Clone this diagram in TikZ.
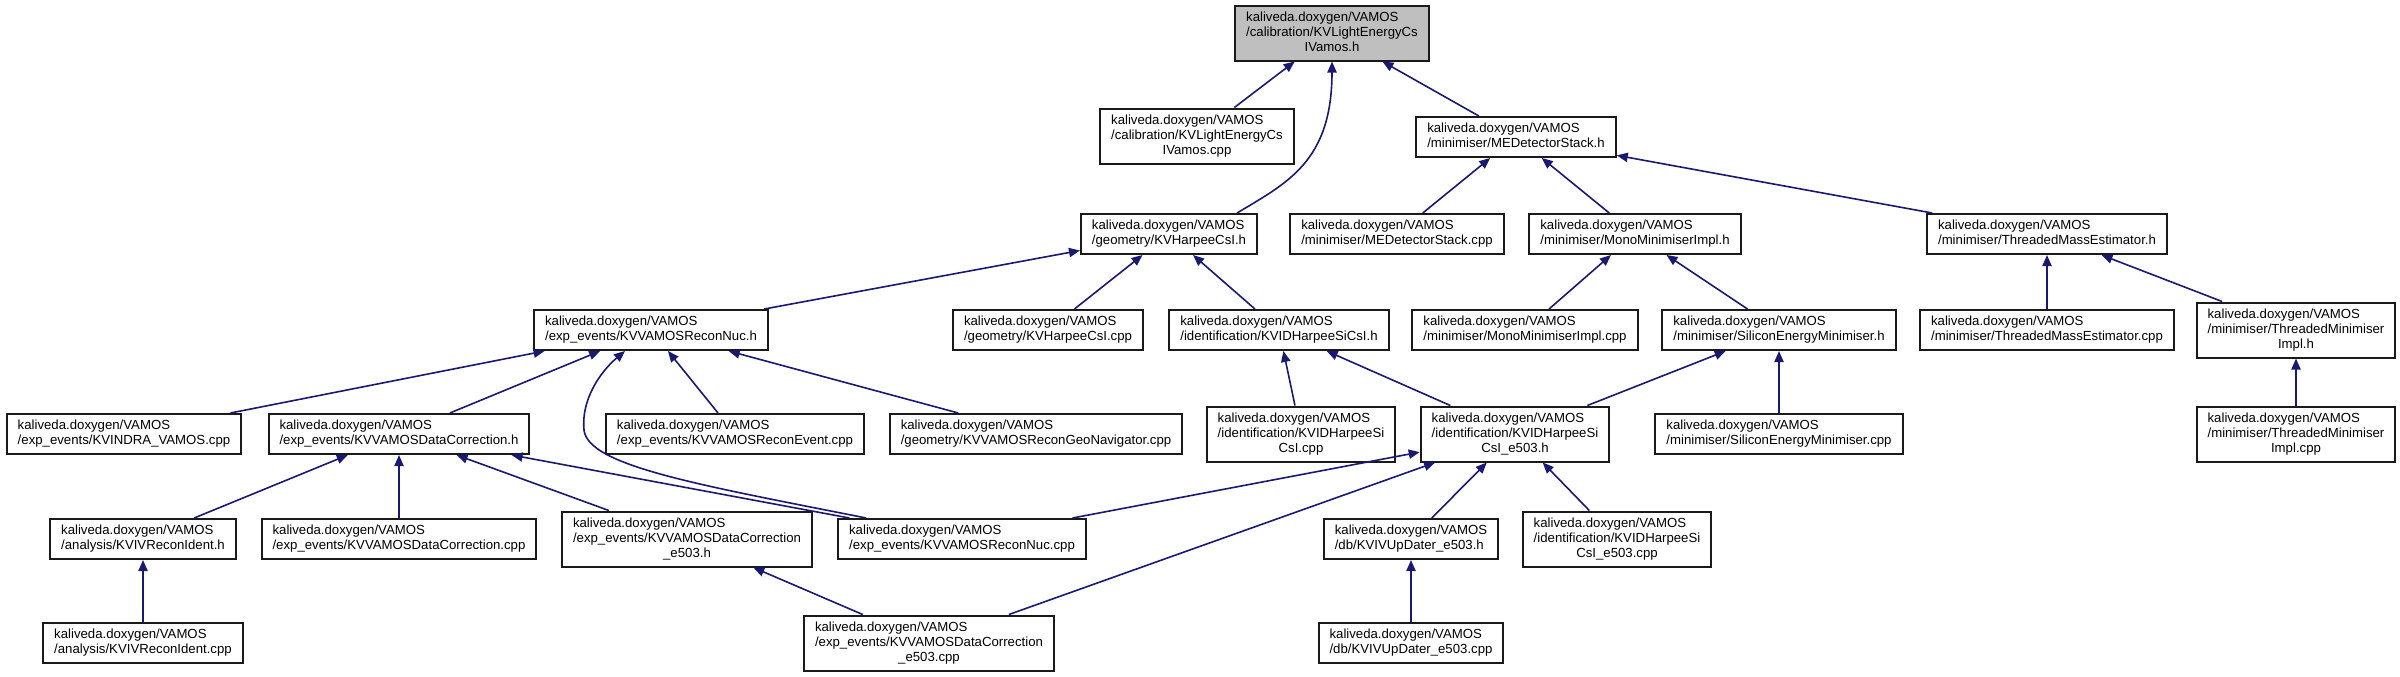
\documentclass[tikz,border=0pt]{standalone}
\usepackage{fontspec}
\setmainfont{Liberation Sans}
\usetikzlibrary{arrows.meta}
\definecolor{dxedge}{HTML}{191970}
\definecolor{dxgray}{HTML}{BFBFBF}
\definecolor{dxframe}{HTML}{1A1A1A}
\newcommand{\kvtwo}[1]{\begin{tabular}{@{}l@{}}kaliveda.doxygen/VAMOS\\#1\end{tabular}}
\newcommand{\kvthree}[2]{\begin{tabular}{@{}l@{}}kaliveda.doxygen/VAMOS\\#1\\\multicolumn{1}{@{}c@{}}{#2}\end{tabular}}
\tikzset{
  filebox/.style={
    draw=dxframe,
    fill=white,
    line width=1pt,
    inner xsep=5.5pt,
    inner ysep=2.5pt,
    font=\fontsize{6.6}{7.5}\selectfont
  },
  mainbox/.style={filebox, fill=dxgray},
  incl/.style={-{Triangle[length=5.5pt,width=4.6pt]}, draw=dxedge, line width=0.8pt}
}
\begin{document}
\begin{tikzpicture}[x=0.5pt, y=-0.5pt]
  \useasboundingbox (0,0) rectangle (2400,676);
  % rank 0 and 1
  \node[mainbox] (top) at (1332,33) {\kvthree{/calibration/KVLightEnergyCs}{IVamos.h}};
  \node[filebox] (lecpp) at (1197,136) {\kvthree{/calibration/KVLightEnergyCs}{IVamos.cpp}};
  \node[filebox] (mes) at (1516,137) {\kvtwo{/minimiser/MEDetectorStack.h}};
  % rank 2
  \node[filebox] (hcsi) at (1169,234) {\kvtwo{/geometry/KVHarpeeCsI.h}};
  \node[filebox] (mescpp) at (1397,234) {\kvtwo{/minimiser/MEDetectorStack.cpp}};
  \node[filebox] (mono) at (1635,234) {\kvtwo{/minimiser/MonoMinimiserImpl.h}};
  \node[filebox] (tme) at (2047,234) {\kvtwo{/minimiser/ThreadedMassEstimator.h}};
  % rank 3
  \node[filebox] (recon) at (651,330) {\kvtwo{/exp\_events/KVVAMOSReconNuc.h}};
  \node[filebox] (hcsicpp) at (1048,330) {\kvtwo{/geometry/KVHarpeeCsI.cpp}};
  \node[filebox] (idh) at (1279,330) {\kvtwo{/identification/KVIDHarpeeSiCsI.h}};
  \node[filebox] (monocpp) at (1525,330) {\kvtwo{/minimiser/MonoMinimiserImpl.cpp}};
  \node[filebox] (sem) at (1779,330) {\kvtwo{/minimiser/SiliconEnergyMinimiser.h}};
  \node[filebox] (tmecpp) at (2047,330) {\kvtwo{/minimiser/ThreadedMassEstimator.cpp}};
  \node[filebox] (tmi) at (2296,330) {\kvthree{/minimiser/ThreadedMinimiser}{Impl.h}};
  % rank 4
  \node[filebox] (indra) at (124,434) {\kvtwo{/exp\_events/KVINDRA\_VAMOS.cpp}};
  \node[filebox] (dc) at (399,434) {\kvtwo{/exp\_events/KVVAMOSDataCorrection.h}};
  \node[filebox] (revt) at (735,434) {\kvtwo{/exp\_events/KVVAMOSReconEvent.cpp}};
  \node[filebox] (geo) at (1036,434) {\kvtwo{/geometry/KVVAMOSReconGeoNavigator.cpp}};
  \node[filebox] (idhcpp) at (1301,434) {\kvthree{/identification/KVIDHarpeeSi}{CsI.cpp}};
  \node[filebox] (ide) at (1515,434) {\kvthree{/identification/KVIDHarpeeSi}{CsI\_e503.h}};
  \node[filebox] (semcpp) at (1779,434) {\kvtwo{/minimiser/SiliconEnergyMinimiser.cpp}};
  \node[filebox] (tmicpp) at (2296,434) {\kvthree{/minimiser/ThreadedMinimiser}{Impl.cpp}};
  % rank 5
  \node[filebox] (ivh) at (143,539) {\kvtwo{/analysis/KVIVReconIdent.h}};
  \node[filebox] (dccpp) at (399,539) {\kvtwo{/exp\_events/KVVAMOSDataCorrection.cpp}};
  \node[filebox] (dce) at (687,539) {\kvthree{/exp\_events/KVVAMOSDataCorrection}{\_e503.h}};
  \node[filebox] (rncpp) at (962,539) {\kvtwo{/exp\_events/KVVAMOSReconNuc.cpp}};
  \node[filebox] (ivu) at (1411,539) {\kvtwo{/db/KVIVUpDater\_e503.h}};
  \node[filebox] (idecpp) at (1617,539) {\kvthree{/identification/KVIDHarpeeSi}{CsI\_e503.cpp}};
  % rank 6
  \node[filebox] (ivcpp) at (143,643) {\kvtwo{/analysis/KVIVReconIdent.cpp}};
  \node[filebox] (dcecpp) at (929,643) {\kvthree{/exp\_events/KVVAMOSDataCorrection}{\_e503.cpp}};
  \node[filebox] (ivucpp) at (1411,643) {\kvtwo{/db/KVIVUpDater\_e503.cpp}};

  % include edges
  \draw[incl] (lecpp) -- (top);
  \draw[incl] ([xshift=-10.5pt]hcsi.north east) .. controls +(50,-30) and +(0,100) .. (top.south);
  \draw[incl] (mes) -- (top);
  \draw[incl] (recon) -- (hcsi);
  \draw[incl] (hcsicpp) -- (hcsi);
  \draw[incl] (idh) -- (hcsi);
  \draw[incl] (mescpp) -- (mes);
  \draw[incl] (mono) -- (mes);
  \draw[incl] (tme) -- (mes);
  \draw[incl] (monocpp) -- (mono);
  \draw[incl] (sem) -- (mono);
  \draw[incl] (tmecpp) -- (tme);
  \draw[incl] (tmi) -- (tme);
  \draw[incl] (tmicpp) -- (tmi);
  \draw[incl] (indra) -- (recon);
  \draw[incl] (dc) -- (recon);
  \draw[incl] ([xshift=14.5pt]rncpp.north west) .. controls (700,485) and (588,466) .. (584,430)
    .. controls (581,400) and (600,372) .. ([xshift=-13pt]recon.south);
  \draw[incl] (revt) -- (recon);
  \draw[incl] (geo) -- (recon);
  \draw[incl] (idhcpp) -- (idh);
  \draw[incl] (ide) -- (idh);
  \draw[incl] (ide) -- (sem);
  \draw[incl] (semcpp) -- (sem);
  \draw[incl] (ivh) -- (dc);
  \draw[incl] (dccpp) -- (dc);
  \draw[incl] (dce) -- (dc);
  \draw[incl] (rncpp) -- (dc);
  \draw[incl] (rncpp) -- (ide);
  \draw[incl] (dcecpp) -- (ide);
  \draw[incl] (ivu) -- (ide);
  \draw[incl] (idecpp) -- (ide);
  \draw[incl] (ivcpp) -- (ivh);
  \draw[incl] (dcecpp) -- (dce);
  \draw[incl] (ivucpp) -- (ivu);
\end{tikzpicture}
\end{document}
